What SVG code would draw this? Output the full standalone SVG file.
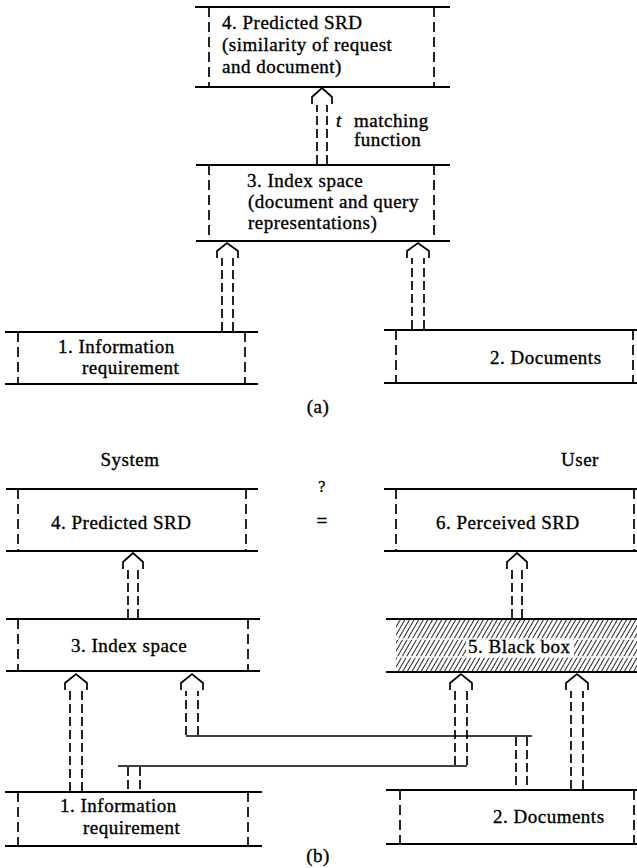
<svg xmlns="http://www.w3.org/2000/svg" width="637" height="868" viewBox="0 0 637 868">
<defs>
<style>
.bar{stroke:#000;stroke-width:2.2;fill:none}
.side{stroke:#000;stroke-width:1.7;stroke-dasharray:10 5;fill:none}
.shaft{stroke:#000;stroke-width:1.7;stroke-dasharray:9 4;fill:none}
.head{stroke:#000;stroke-width:1.7;fill:none;stroke-linejoin:miter}
.line{stroke:#000;stroke-width:1.7;fill:none}
text{font-family:"Liberation Serif","Times New Roman",serif;font-size:19px;letter-spacing:0.5px;fill:#000;stroke:#000;stroke-width:0.35}
.mid{text-anchor:middle}
</style>
<pattern id="hatch" patternUnits="userSpaceOnUse" width="4" height="4" patternTransform="rotate(30)">
<rect width="4" height="4" fill="#fff"/>
<line x1="0" y1="0" x2="0" y2="4" stroke="#000" stroke-width="1.7"/>
</pattern>
</defs>
<rect width="637" height="868" fill="#fff"/>

<!-- (a) -->
<g id="a-node4">
<path class="bar" d="M195,7 H450 M195,87 H450"/>
<path class="side" d="M209,7 V87 M434,7 V87"/>
<text x="222" y="29">4. Predicted SRD</text>
<text x="222" y="51">(similarity of request</text>
<text x="222" y="73">and document)</text>
</g>
<g id="a-node3">
<path class="bar" d="M196,165 H450 M196,241 H450"/>
<path class="side" d="M209,165 V241 M434,165 V241"/>
<text x="247" y="187">3. Index space</text>
<text x="248" y="208">(document and query</text>
<text x="248" y="229">representations)</text>
</g>
<g id="a-node1">
<path class="bar" d="M5,332 H258 M5,384 H258"/>
<path class="side" d="M18,332 V384 M245,332 V384"/>
<text x="58" y="353">1. Information</text>
<text x="82" y="374">requirement</text>
</g>
<g id="a-node2">
<path class="bar" d="M384,330 H637 M384,383 H637"/>
<path class="side" d="M396,330 V383 M633,330 V383"/>
<text x="490" y="364">2. Documents</text>
</g>
<text class="mid" x="318" y="413">(a)</text>

<!-- (b) -->
<text class="mid" x="130" y="466">System</text>
<text class="mid" x="580" y="466">User</text>
<text class="mid" x="322" y="492" style="font-size:16px">?</text>
<text class="mid" x="322" y="527">=</text>
<g id="b-node4">
<path class="bar" d="M6,489 H258 M6,551 H258"/>
<path class="side" d="M18,489 V551 M246,489 V551"/>
<text x="51" y="529">4. Predicted SRD</text>
</g>
<g id="b-node6">
<path class="bar" d="M384,489 H637 M384,551 H637"/>
<path class="side" d="M396,489 V551 M634,489 V551"/>
<text x="436" y="529">6. Perceived SRD</text>
</g>
<g id="b-node3">
<path class="bar" d="M6,619 H260 M6,671 H260"/>
<path class="side" d="M18,619 V671 M248,619 V671"/>
<text x="71" y="652">3. Index space</text>
</g>
<g id="b-node5">
<rect x="396" y="620" width="241" height="51" fill="url(#hatch)"/>
<path d="M396,639 H637 M396,657 H637" stroke="#fff" stroke-width="1.5"/>
<rect x="466" y="640" width="108" height="17" fill="#fff"/>
<path class="bar" d="M386,619 H637 M386,672 H637"/>
<text x="468" y="653">5. Black box</text>
</g>
<g id="b-node1">
<path class="bar" d="M5,792 H262 M5,846 H262"/>
<path class="side" d="M18,792 V846 M248,792 V846"/>
<text x="60" y="812">1. Information</text>
<text x="83" y="834">requirement</text>
</g>
<g id="b-node2">
<path class="bar" d="M386,790 H637 M386,844 H637"/>
<path class="side" d="M400,790 V844 M634,790 V844"/>
<text x="493" y="823">2. Documents</text>
</g>
<text class="mid" x="318" y="862">(b)</text>

<g id="connectors">
<!-- a: 3 -> 4 -->
<path class="head" d="M312,104 V97 L322,88 L332,97 V104"/>
<path class="shaft" d="M317,164 V105 M327,164 V105"/>
<text x="336" y="127" style="font-style:italic">t</text>
<text x="354" y="127">matching</text>
<text x="354" y="146">function</text>
<!-- a: 1 -> 3 -->
<path class="head" d="M217,258 V251 L227,243 L238,251 V258"/>
<path class="shaft" d="M222,331 V258 M233,331 V258"/>
<!-- a: 2 -> 3 -->
<path class="head" d="M407,258 V251 L418,243 L429,251 V258"/>
<path class="shaft" d="M412,329 V258 M424,329 V258"/>

<!-- b: 3 -> 4 -->
<path class="head" d="M123,569 V562 L133,553 L143,562 V569"/>
<path class="shaft" d="M128,618 V570 M138,618 V570"/>
<!-- b: 5 -> 6 -->
<path class="head" d="M507,569 V562 L517,553 L527,562 V569"/>
<path class="shaft" d="M512,618 V570 M522,618 V570"/>
<!-- b: 1 -> 3 (A) -->
<path class="head" d="M65,690 V683 L76,674 L87,683 V690"/>
<path class="shaft" d="M70,791 V691 M82,791 V691"/>
<!-- b: 2 -> 3 (B) -->
<path class="head" d="M181,690 V683 L192,674 L203,683 V690"/>
<path class="shaft" d="M186,735 V691 M198,735 V691"/>
<path class="line" d="M186,736 H532"/>
<path class="shaft" d="M516,737 V789 M527,737 V789"/>
<!-- b: 1 -> 5 (C) -->
<path class="head" d="M450,690 V683 L461,674 L472,683 V690"/>
<path class="shaft" d="M455,765 V691 M467,765 V691"/>
<path class="line" d="M118,766 H467"/>
<path class="shaft" d="M128,767 V791 M140,767 V791"/>
<!-- b: 2 -> 5 (D) -->
<path class="head" d="M566,690 V683 L577,674 L588,683 V690"/>
<path class="shaft" d="M571,789 V691 M583,789 V691"/>
</g>
</svg>
